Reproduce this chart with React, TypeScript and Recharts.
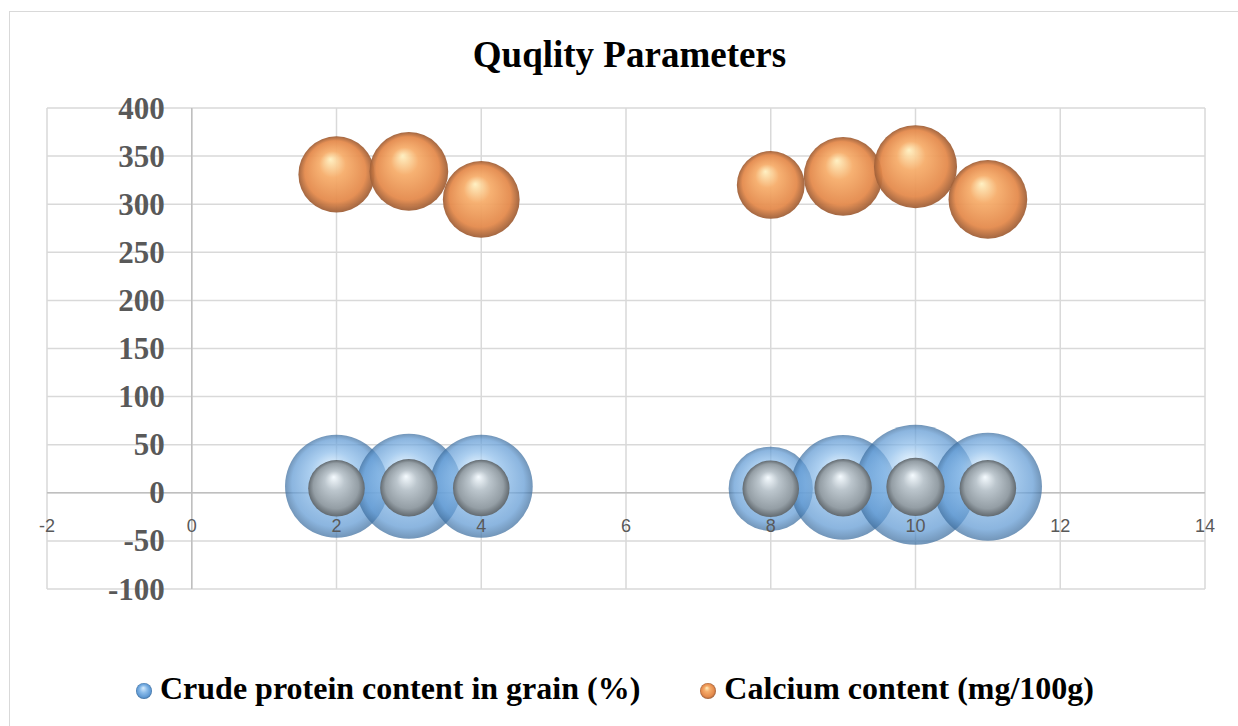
import React from 'react';
import {
  ScatterChart, Scatter, XAxis, YAxis, ZAxis, CartesianGrid, Legend, ReferenceLine,
} from 'recharts';

// values
const xValues = [2, 3, 4, 8, 9, 10, 11];
const proteinY = [6.8, 6.8, 6.8, 4.2, 5.7, 8.3, 6.3];
const proteinSize = [106, 110, 106, 71, 110, 144, 117];
const calciumY = [331, 334, 305, 320, 329, 339, 305];
const calciumSize = [58, 62, 59, 46, 62, 69, 62];
const thirdY = [4.7, 5.2, 4.9, 4.2, 5.2, 6.2, 4.7];
const thirdSize = [32, 33, 32, 32, 33, 34, 32];

const xTicks = [-2, 0, 2, 4, 6, 8, 10, 12, 14];
const yTicks = [-100, -50, 0, 50, 100, 150, 200, 250, 300, 350, 400];

const PROTEIN = 'Crude protein content in grain (%)';
const CALCIUM = 'Calcium content (mg/100g)';
const legendOrder = [PROTEIN, CALCIUM];

const proteinData = xValues.map((x, i) => ({ x, y: proteinY[i], z: proteinSize[i] }));
const calciumData = xValues.map((x, i) => ({ x, y: calciumY[i], z: calciumSize[i] }));
const thirdData = xValues.map((x, i) => ({ x, y: thirdY[i], z: thirdSize[i] }));

const W = 1238;
const H = 726;
const PLOT_LEFT = 47;
const PLOT_RIGHT = 1205;
const PLOT_TOP = 108;
const PLOT_BOTTOM = 589;
const X_MIN = -2, X_MAX = 14, Y_MIN = -100, Y_MAX = 400;
const ZERO_X = PLOT_LEFT + ((0 - X_MIN) / (X_MAX - X_MIN)) * (PLOT_RIGHT - PLOT_LEFT);
const ZERO_Y = PLOT_TOP + ((Y_MAX - 0) / (Y_MAX - Y_MIN)) * (PLOT_BOTTOM - PLOT_TOP);

const XAXIS_H = 30;
const YAXIS_W = 40;
const LEGEND_H = 40;

const bubble = (fill: string, opacity: number) => (props: any) => {
  const { cx, cy } = props;
  const d = props.width ?? 2 * Math.sqrt((props.size ?? 0) / Math.PI);
  return <circle cx={cx} cy={cy} r={d / 2} fill={fill} fillOpacity={opacity} />;
};

const XTick = ({ x, payload }: any) => (
  <text x={x} y={ZERO_Y + 33} textAnchor="middle" dominantBaseline="central"
    fill="#595959" fontSize={18} fontFamily="'Liberation Sans', Arial, sans-serif">
    {payload.value}
  </text>
);

const YTick = ({ y, payload }: any) => (
  <text x={ZERO_X - 27} y={y} textAnchor="end" dominantBaseline="central"
    fill="#595959" fontSize={31} fontWeight="bold" fontFamily="'Liberation Serif', 'Times New Roman', serif">
    {payload.value}
  </text>
);

const renderLegend = ({ payload }: any) => {
  const items = legendOrder
    .map((name) => (payload || []).find((p: any) => p.value === name))
    .filter(Boolean);
  return (
    <div style={{
      height: LEGEND_H, display: 'flex', justifyContent: 'center', alignItems: 'center', gap: 59, paddingRight: 9,
      fontFamily: "'Liberation Serif', 'Times New Roman', serif", fontWeight: 'bold', fontSize: 32, color: '#000',
    }}>
      {items.map((p: any) => (
        <div key={p.value} style={{ display: 'flex', alignItems: 'center' }}>
          <svg width={18} height={18} style={{ marginRight: 7, marginTop: 6 }}>
            <circle cx={9} cy={9} r={8} fill={p.value === PROTEIN ? 'url(#gBlue)' : 'url(#gOrange)'} />
          </svg>
          <span>{p.value}</span>
        </div>
      ))}
    </div>
  );
};

export default function App() {
  return (
    <div style={{ position: 'absolute', left: 0, top: 0, width: W, height: H, overflow: 'hidden', background: '#fff' }}>
      <div style={{ position: 'absolute', left: 9, top: 11, width: W + 40, height: H + 40, border: '1px solid #d9d9d9' }} />
      <div style={{
        position: 'absolute', left: 0, top: 36, width: 1259, textAlign: 'center', lineHeight: '37px',
        fontFamily: "'Liberation Serif', 'Times New Roman', serif", fontWeight: 'bold', fontSize: 37, color: '#000',
      }}>
        Quqlity Parameters
      </div>
      <div style={{ position: 'absolute', left: 0, top: 0 }}>
        <ScatterChart
          width={W}
          height={H}
          margin={{
            top: PLOT_TOP,
            left: PLOT_LEFT - YAXIS_W,
            right: W - PLOT_RIGHT,
            bottom: H - PLOT_BOTTOM - XAXIS_H - LEGEND_H,
          }}
        >
          <defs>
            <radialGradient id="gBlue" cx="50%" cy="50%" r="50%" fx="45%" fy="30%">
              <stop offset="0%" stopColor="#d9edfd" />
              <stop offset="45%" stopColor="#8bbcea" />
              <stop offset="85%" stopColor="#5f99d3" />
              <stop offset="100%" stopColor="#3c6d9e" />
            </radialGradient>
            <radialGradient id="gOrange" cx="50%" cy="50%" r="50%" fx="42%" fy="30%">
              <stop offset="0%" stopColor="#fff0c0" />
              <stop offset="35%" stopColor="#f6ad6b" />
              <stop offset="80%" stopColor="#e48a4c" />
              <stop offset="100%" stopColor="#9e5f38" />
            </radialGradient>
            <radialGradient id="gGray" cx="50%" cy="50%" r="50%" fx="45%" fy="30%">
              <stop offset="0%" stopColor="#f5fbff" />
              <stop offset="35%" stopColor="#bcc6cd" />
              <stop offset="80%" stopColor="#949ea5" />
              <stop offset="100%" stopColor="#626a70" />
            </radialGradient>
          </defs>
          <CartesianGrid stroke="#d9d9d9" strokeWidth={1.5} />
          <ZAxis type="number" dataKey="z" domain={[0, 144]} range={[0, Math.PI * 60 * 60]} />
          <ReferenceLine x={0} stroke="#bfbfbf" strokeWidth={1.5} />
          <ReferenceLine y={0} stroke="#bfbfbf" strokeWidth={1.5} />
          <Scatter name={PROTEIN} data={proteinData} fill="#5b9bd5"
            shape={bubble('url(#gBlue)', 0.72)} isAnimationActive={false} />
          <Scatter name={CALCIUM} data={calciumData} fill="#ed7d31"
            shape={bubble('url(#gOrange)', 0.95)} isAnimationActive={false} />
          <Scatter name="Series 3" data={thirdData} fill="#a5a5a5" legendType="none"
            shape={bubble('url(#gGray)', 1)} isAnimationActive={false} />
          <XAxis type="number" dataKey="x" domain={[X_MIN, X_MAX]} ticks={xTicks} height={XAXIS_H}
            axisLine={false} tickLine={false} tick={<XTick />} interval={0} />
          <YAxis type="number" dataKey="y" domain={[Y_MIN, Y_MAX]} ticks={yTicks} width={YAXIS_W}
            axisLine={false} tickLine={false} tick={<YTick />} interval={0} />
          <Legend verticalAlign="bottom" content={renderLegend} itemSorter={null as any}
            wrapperStyle={{ top: 668, bottom: 'auto', left: 0, width: W }} />
        </ScatterChart>
      </div>
    </div>
  );
}
